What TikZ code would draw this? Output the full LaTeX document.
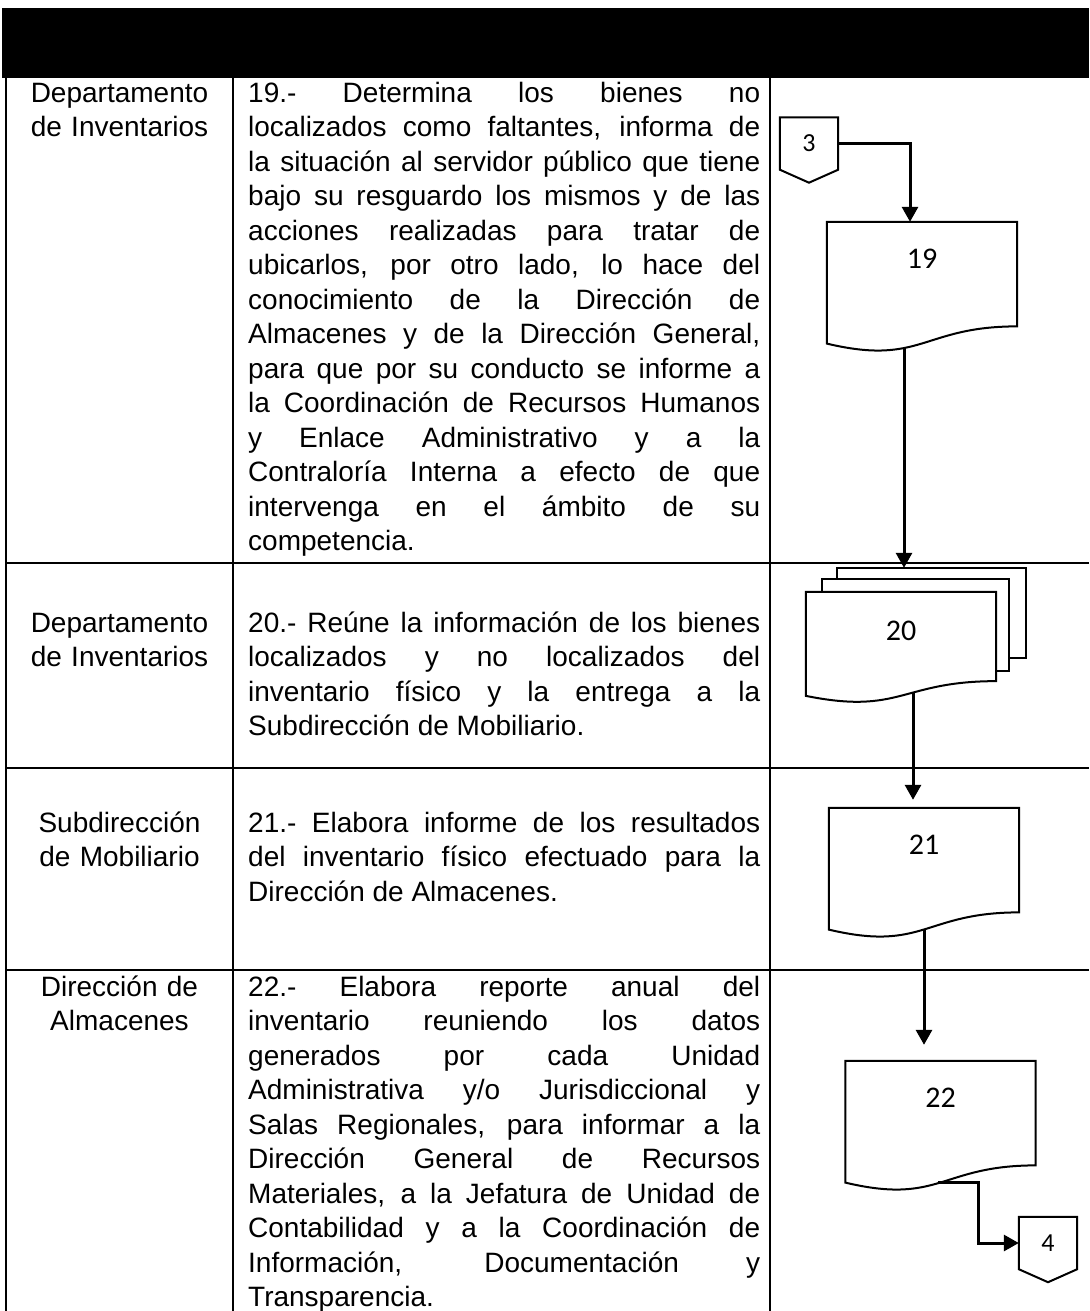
\documentclass[tikz,border=0pt]{standalone}
\usepackage{fontspec}
\setmainfont{Liberation Sans}
\newfontfamily\numfont{Carlito}
\usetikzlibrary{arrows.meta, calc, backgrounds}
\setlength{\parindent}{0pt}
\tolerance=10000
\hbadness=10000

\begin{document}
\begin{tikzpicture}[x=1pt, y=-1pt,
        txt/.style={inner sep=0pt, anchor=north west, text width=512pt, align=justify,
            font=\fontsize{28}{34.5}\selectfont},
        who/.style={inner sep=0pt, anchor=north, text width=225pt, align=center,
            font=\fontsize{28}{34.5}\selectfont},
        doc/.style={inner sep=0pt, minimum width=190pt, minimum height=130pt,
            text height=19pt, text depth=56pt, font=\numfont\fontsize{30}{32}\selectfont},
        sheet/.style={inner sep=0pt},
        conn/.style={inner sep=0pt, minimum width=58pt, minimum height=52pt,
            font=\numfont\fontsize{26}{28}\selectfont},
        shp/.style={line width=2pt, line join=miter},
        tbl/.style={line width=1.6pt},
        arr/.style={line width=3pt, -{Triangle[length=15pt, width=16pt]}},
    ]
        \useasboundingbox (0,0) rectangle (1089,1311);

        % table frame
        \fill (2,8) rectangle (1089,78);
        \foreach \x in {6, 233, 770}
            \draw[tbl] (\x,78) -- (\x,1311);
        \foreach \y in {563, 768, 970}
            \draw[tbl] (6,\y) -- (1089,\y);

        % responsible units
        \node[who] (w19) at (119.5,77.85) {\strut Departamento\\de Inventarios};
        \node[who] (w20) at (119.5,607.85) {\strut Departamento\\de Inventarios};
        \node[who] (w21) at (119.5,807.85) {\strut Subdirección\\de Mobiliario};
        \node[who] (w22) at (119.5,971.85) {\strut Dirección de\\Almacenes};

        % activities
        \node[txt] (t19) at (248,77.85) {\strut 19.- Determina los bienes no\linebreak
            localizados como faltantes, informa de\linebreak
            la situación al servidor público que tiene\linebreak
            bajo su resguardo los mismos y de las\linebreak
            acciones realizadas para tratar de\linebreak
            ubicarlos, por otro lado, lo hace del\linebreak
            conocimiento de la Dirección de\linebreak
            Almacenes y de la Dirección General,\linebreak
            para que por su conducto se informe a\linebreak
            la Coordinación de Recursos Humanos\linebreak
            y Enlace Administrativo y a la\linebreak
            Contraloría Interna a efecto de que\linebreak
            intervenga en el ámbito de su\linebreak
            competencia.};
        \node[txt] (t20) at (248,607.85) {\strut 20.- Reúne la información de los bienes\linebreak
            localizados y no localizados del\linebreak
            inventario físico y la entrega a la\linebreak
            Subdirección de Mobiliario.};
        \node[txt] (t21) at (248,807.85) {\strut 21.- Elabora informe de los resultados\linebreak
            del inventario físico efectuado para la\linebreak
            Dirección de Almacenes.};
        \node[txt] (t22) at (248,971.85) {\strut 22.- Elabora reporte anual del\linebreak
            inventario reuniendo los datos\linebreak
            generados por cada Unidad\linebreak
            Administrativa y/o Jurisdiccional y\linebreak
            Salas Regionales, para informar a la\linebreak
            Dirección General de Recursos\linebreak
            Materiales, a la Jefatura de Unidad de\linebreak
            Contabilidad y a la Coordinación de\linebreak
            Información, Documentación y\linebreak
            Transparencia.};

        % flow
        \node[conn] (c3) at (809,143.5) {3};
        \node[doc] (d19) at (922,287) {19};
        \node[sheet, minimum width=189pt, minimum height=90pt] (d20c) at (931.5,613) {};
        \node[sheet, minimum width=187pt, minimum height=92pt] (d20b) at (915.5,625) {};
        \node[doc, minimum height=111pt, text depth=34pt] (d20a) at (901,647.5) {20};
        \node[doc] (d21) at (924,873) {21};
        \node[doc] (d22) at (940.5,1126) {22};
        \node[conn] (c4) at (1048,1243) {4};

        \begin{scope}[on background layer]
            \foreach \sn in {d20c, d20b}
                \draw[shp, fill=white] (\sn.north west) rectangle (\sn.south east);
            \foreach \dn in {d19, d20a, d21, d22}
                \draw[shp, fill=white] (\dn.north west) -- (\dn.north east)
                    -- ($(\dn.north east)!0.802!(\dn.south east)$)
                    .. controls ($(\dn.north)!0.802!(\dn.south)$) and ($(\dn.north)!1.1075!(\dn.south)$)
                    .. ($(\dn.north west)!0.934!(\dn.south west)$) -- cycle;
            \foreach \cn in {c3, c4}
                \draw[shp] (\cn.north west) -- (\cn.north east) -- (\cn.south east)
                    -- ($(\cn.south)+(0,13)$) -- (\cn.south west) -- cycle;
        \end{scope}

        \coordinate (o19) at ([xshift=-18pt, yshift=4pt]d19.south);
        \coordinate (o20) at ([xshift=12pt, yshift=10pt]d20a.south);
        \coordinate (o21) at ([yshift=9pt]d21.south);
        \coordinate (o22) at ([xshift=-2.5pt, yshift=9pt]d22.south);

        \draw[arr] (c3.east) -| ([xshift=-12pt]d19.north);
        \draw[arr] (o19) -- (o19 |- d20c.north);
        \draw[arr, shorten >=8pt] (o20) -- (o20 |- d21.north);
        \draw[arr, shorten >=16pt] (o21) -- (o21 |- d22.north);
        \draw[arr] (o22) -- ++(40,0) |- (c4.west);
    \end{tikzpicture}
\end{document}
